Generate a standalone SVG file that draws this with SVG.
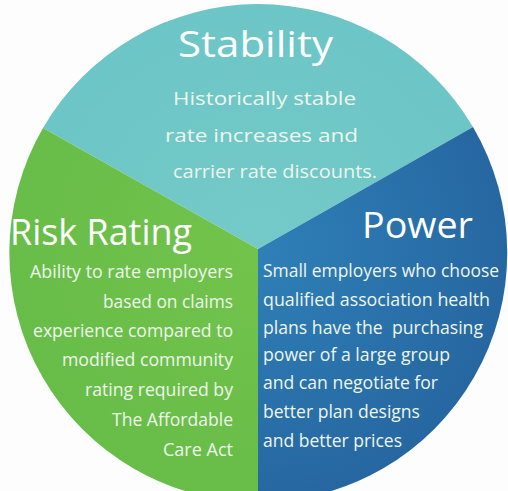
<svg xmlns="http://www.w3.org/2000/svg" width="508" height="491" viewBox="0 0 508 491">
<defs>
<radialGradient id="gBlue" cx="258" cy="249" r="260" gradientUnits="userSpaceOnUse">
<stop offset="0" stop-color="#2f80b8"/>
<stop offset="1" stop-color="#2666a0"/>
</radialGradient>
<radialGradient id="gGreen" cx="258" cy="249" r="260" gradientUnits="userSpaceOnUse">
<stop offset="0" stop-color="#72c34c"/>
<stop offset="1" stop-color="#67bd48"/>
</radialGradient>
<radialGradient id="gTeal" cx="258" cy="249" r="260" gradientUnits="userSpaceOnUse">
<stop offset="0" stop-color="#74cac8"/>
<stop offset="1" stop-color="#6cc5c6"/>
</radialGradient>
</defs>
<style>
.t{font-family:"Open Sans","Noto Sans",sans-serif;fill:#ffffff}
.h{font-size:37px}
.b{font-size:18.5px;fill:#eef6ec}
.r{text-anchor:end}
</style>
<rect width="508" height="491" fill="#fdfdfd"/>
<g id="stability">
<path d="M258,249 L43,128 A249,249 0 0 1 473,127 Z" fill="url(#gTeal)"/>
<text class="t h" x="178" y="57" textLength="155" lengthAdjust="spacingAndGlyphs">Stability</text>
<text class="t b" x="173" y="105" textLength="183" lengthAdjust="spacingAndGlyphs">Historically stable</text>
<text class="t b" x="165" y="142" textLength="193" lengthAdjust="spacingAndGlyphs">rate increases and</text>
<text class="t b" x="173" y="178" textLength="204" lengthAdjust="spacingAndGlyphs">carrier rate discounts.</text>
</g>
<g id="power">
<path d="M258,249 L473,127 A249,249 0 0 1 258,502 Z" fill="url(#gBlue)"/>
<text class="t h" x="362" y="238" textLength="111" lengthAdjust="spacingAndGlyphs">Power</text>
<text class="t b" x="263" y="277" textLength="236" lengthAdjust="spacingAndGlyphs">Small employers who choose</text>
<text class="t b" x="263" y="306" textLength="227" lengthAdjust="spacingAndGlyphs">qualified association health</text>
<text class="t b" x="263" y="334" textLength="220" lengthAdjust="spacingAndGlyphs">plans have the&#160; purchasing</text>
<text class="t b" x="263" y="361" textLength="187" lengthAdjust="spacingAndGlyphs">power of a large group</text>
<text class="t b" x="263" y="389" textLength="175" lengthAdjust="spacingAndGlyphs">and can negotiate for</text>
<text class="t b" x="263" y="418" textLength="157" lengthAdjust="spacingAndGlyphs">better plan designs</text>
<text class="t b" x="263" y="447" textLength="139" lengthAdjust="spacingAndGlyphs">and better prices</text>
</g>
<g id="risk-rating">
<path d="M258,249 L258,502 A249,249 0 0 1 43,128 Z" fill="url(#gGreen)"/>
<text class="t h" x="10" y="245" textLength="182" lengthAdjust="spacingAndGlyphs">Risk Rating</text>
<text class="t b r" x="233" y="278" textLength="203" lengthAdjust="spacingAndGlyphs">Ability to rate employers</text>
<text class="t b r" x="233" y="308" textLength="130" lengthAdjust="spacingAndGlyphs">based on claims</text>
<text class="t b r" x="233" y="337" textLength="200" lengthAdjust="spacingAndGlyphs">experience compared to</text>
<text class="t b r" x="233" y="366" textLength="171" lengthAdjust="spacingAndGlyphs">modified community</text>
<text class="t b r" x="233" y="396" textLength="148" lengthAdjust="spacingAndGlyphs">rating required by</text>
<text class="t b r" x="233" y="426" textLength="121" lengthAdjust="spacingAndGlyphs">The Affordable</text>
<text class="t b r" x="233" y="456" textLength="70" lengthAdjust="spacingAndGlyphs">Care Act</text>
</g>
<g id="connectors"/>
</svg>
